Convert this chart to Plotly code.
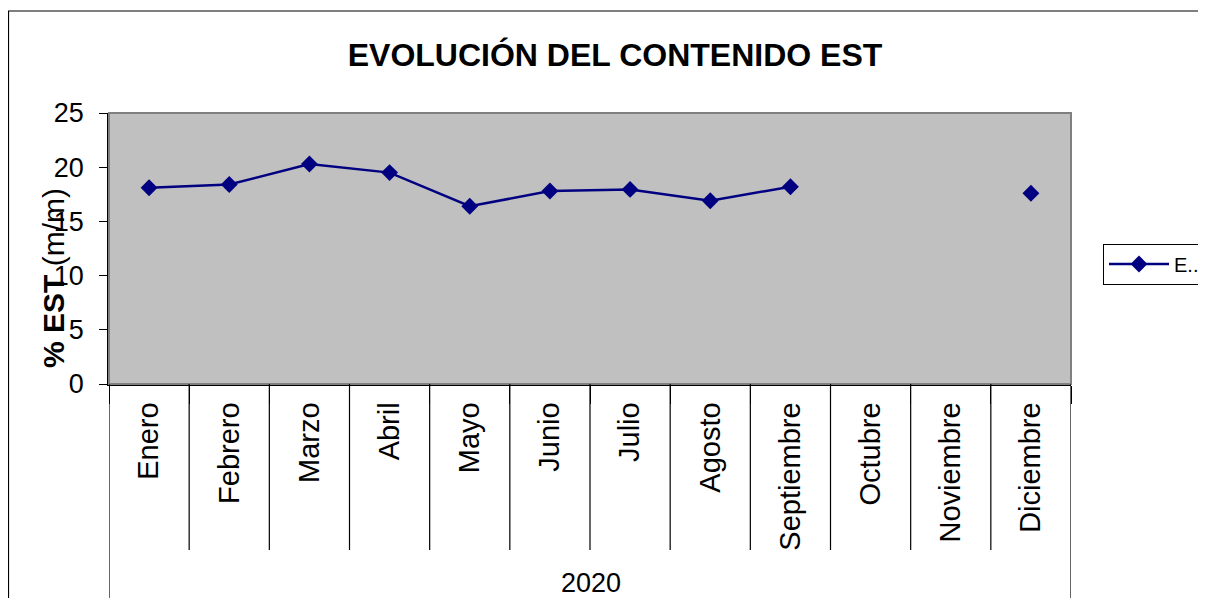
import plotly.graph_objects as go

months = ["Enero", "Febrero", "Marzo", "Abril", "Mayo", "Junio", "Julio",
          "Agosto", "Septiembre", "Octubre", "Noviembre", "Diciembre"]
est_values = [18.1, 18.4, 20.3, 19.5, 16.4, 17.8, 17.95, 16.9, 18.2, None, None, 17.6]
year_label = "2020"
series_name = "E.."
y_ticks = [0, 5, 10, 15, 20, 25]

# page is offset by the default 8px body margin
OFF = 8
PAGE_W, PAGE_H = 1206, 598
W, H = PAGE_W - OFF, PAGE_H - OFF
L, R, T, B = 109, 1071, 113, 384   # plot area in page pixels
pw, ph = R - L, B - T

def px_x(p):
    return (p - L) / pw

def px_y(p):
    return (B - p) / ph

fig = go.Figure()
fig.add_trace(go.Scatter(
    x=months, y=est_values, name=series_name, mode="lines+markers",
    line=dict(color="#000080", width=2.5),
    marker=dict(symbol="diamond", size=13, color="#000080"),
    connectgaps=False,
))

shapes = []
shapes.append(dict(type="rect", xref="paper", yref="paper", x0=0, x1=1, y0=0, y1=1,
                   line=dict(color="#808080", width=2), layer="above"))
n = len(months)
for i in range(n + 1):
    edge = i == 0 or i == n
    shapes.append(dict(type="line", xref="x", yref="paper",
                       x0=i - 0.5, x1=i - 0.5, y0=0,
                       y1=px_y(605) if edge else px_y(550),
                       line=dict(color="black", width=1.2)))
shapes.append(dict(type="rect", xref="paper", yref="paper",
                   x0=px_x(8.5), x1=px_x(1215), y0=px_y(610), y1=px_y(11),
                   line=dict(color="black", width=1.2)))

fig.update_layout(
    width=W, height=H,
    margin=dict(l=L - OFF, r=PAGE_W - R, t=T - OFF, b=PAGE_H - B, pad=0, autoexpand=False),
    paper_bgcolor="white", plot_bgcolor="#C0C0C0",
    font=dict(family="Liberation Sans, Arial", color="black"),
    title=dict(text="<b>EVOLUCIÓN DEL CONTENIDO EST</b>", x=(615 - OFF) / W, xanchor="center",
               y=1 - (55 - OFF) / H, yanchor="middle", font=dict(size=32, color="black")),
    xaxis=dict(type="category", categoryorder="array", categoryarray=months,
               range=[-0.5, n - 0.5], showgrid=False, zeroline=False,
               showline=True, linecolor="black", linewidth=1.5,
               ticks="outside", tickson="boundaries", ticklen=18, tickcolor="black",
               ticklabelstandoff=5,
               tickangle=-90, tickfont=dict(size=29)),
    yaxis=dict(range=[0, 25], tickvals=y_ticks, showgrid=False, zeroline=False,
               showline=True, linecolor="black", linewidth=1.5,
               ticks="outside", ticklen=8, tickcolor="black",
               ticklabelstandoff=10,
               tickfont=dict(size=27)),
    showlegend=True,
    legend=dict(x=px_x(1103), y=px_y(264), xanchor="left", yanchor="middle",
                bordercolor="black", borderwidth=1, bgcolor="white",
                font=dict(size=20), itemwidth=60),
    shapes=shapes,
    annotations=[
        dict(text=year_label, xref="paper", yref="paper", x=px_x(591),
             y=px_y(583), xanchor="center", yanchor="middle", showarrow=False,
             font=dict(size=27)),
        dict(text="<b>% EST</b> (m/m)", xref="paper", yref="paper", x=px_x(53),
             y=px_y(278), xanchor="center", yanchor="middle", textangle=-90,
             showarrow=False, font=dict(size=30)),
    ],
)

fig.write_html("out.html")
